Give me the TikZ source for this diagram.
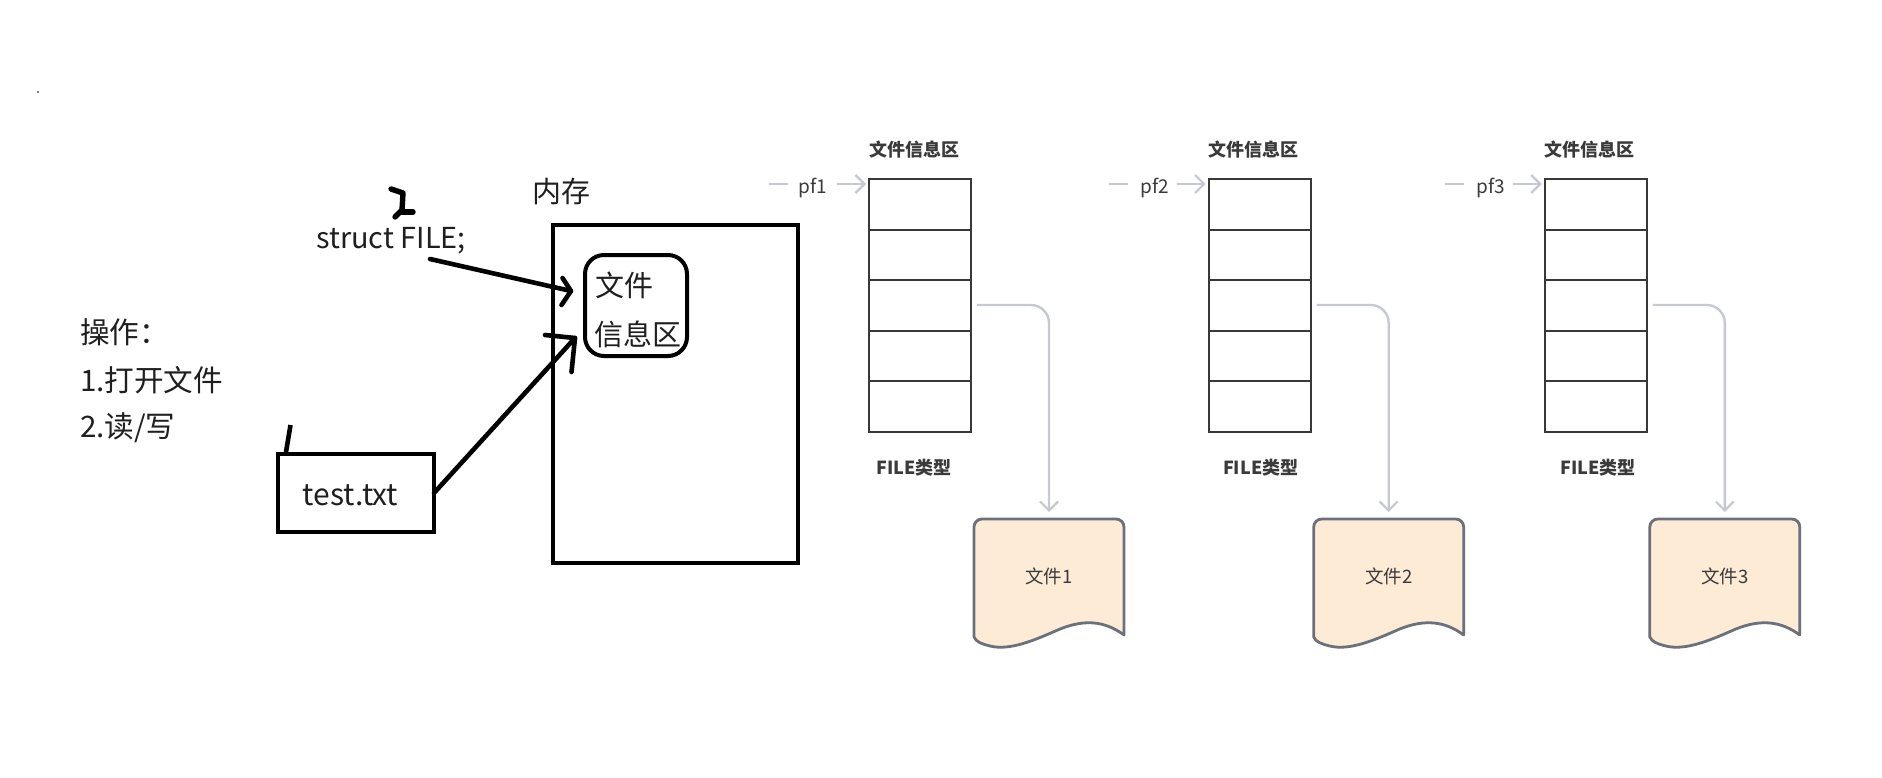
\documentclass[tikz,border=0pt]{standalone}
\usepackage{fontspec}
\setmainfont{Noto Sans CJK SC}
\usetikzlibrary{arrows.meta}
\definecolor{inkblack}{HTML}{000000}
\definecolor{softgray}{HTML}{C6C9CF}
\definecolor{docedge}{HTML}{6A707C}
\definecolor{docfill}{HTML}{FDEBD6}
\definecolor{cellline}{HTML}{383838}
\definecolor{smalltext}{HTML}{3A3A3A}
\tikzset{
  bigtext/.style={inner sep=0pt,outer sep=0pt,text=black!88,font=\fontsize{29}{35}\selectfont},
  listtext/.style={bigtext,font=\fontsize{29.6}{35}\selectfont},
  inkbox/.style={draw=inkblack,line width=4.4pt,inner sep=0pt,outer sep=0pt},
  inkline/.style={draw=inkblack,line width=4.6pt,line cap=round,line join=round},
  cellbox/.style={draw=cellline,line width=2pt,inner sep=0pt,outer sep=0pt,minimum width=102pt},
  softline/.style={draw=softgray,line width=2.4pt},
  softarrow/.style={softline,-{Straight Barb[length=9pt,width=18pt,line width=2.2pt]}},
  boldlabel/.style={inner sep=0pt,outer sep=0pt,text=smalltext,font=\fontsize{18}{22}\selectfont\bfseries},
  pflabel/.style={inner sep=0pt,outer sep=0pt,text=smalltext,font=\fontsize{19}{23}\selectfont},
  docshape/.style={draw=docedge,fill=docfill,line width=2.8pt,line join=round},
  doclabel/.style={inner sep=0pt,outer sep=0pt,text=smalltext,minimum width=150pt,minimum height=114pt,font=\fontsize{18.5}{22}\selectfont},
}
\begin{document}
\begin{tikzpicture}[x=1pt,y=-1pt]
\useasboundingbox (0,0) rectangle (1882,778);
\fill[white] (0,0) rectangle (1882,778);
\fill[inkblack] (38,92) circle (0.9);
% left list
\node[listtext,anchor=west] (opstitle) at (80,332) {操作：};
\node[listtext,anchor=west] (opsopen) at (80,380) {1.打开文件};
\node[listtext,anchor=west] (opsrw) at (80,428) {2.读/写};
% memory
\node[bigtext] (memlabel) at (561,192) {内存};
\node[inkbox,minimum width=245pt,minimum height=338pt] (membox) at (675.5,394) {};
\node[inkbox,rounded corners=19pt,line width=4pt,minimum width=102pt,minimum height=101pt] (infobox) at (636,305.5) {};
\node[bigtext] (infoa) at (624,285) {文件};
\node[bigtext] (infob) at (637.5,334.5) {信息区};
% file box
\node[inkbox,minimum width=156pt,minimum height=78pt] (testbox) at (356,493) {};
\node[bigtext,font=\fontsize{30}{36}\selectfont] (testlabel) at (350.5,495) {test.txt};
\node[bigtext,font=\fontsize{28.9}{36}\selectfont] (structlabel) at (391,241) {struct FILE;};
% hand strokes
\coordinate (aonestart) at (430,259);
\coordinate (aoneend) at (571,291);
\coordinate (atwostart) at (437,488);
\coordinate (atwoend) at (575,338);
\draw[inkline] (aonestart) -- (aoneend);
\draw[inkline] (562.5,278) -- (aoneend) -- (561.5,305);
\draw[inkline] (testbox.east) -- (atwoend);
\draw[inkline] (545,335) -- (atwoend) -- (571.5,372);
\draw[inkline,line width=5.4pt] (391,189) -- (403,193) -- (402,210) -- (395,217);
\draw[inkline,line width=5.4pt] (402,212) -- (413,212);
\draw[inkline,line cap=butt] (290.5,425) -- (286,452);
% three groups
\foreach \dx/\n/\tx/\px in {0/1/0/0,339.7/2/7/2,675.8/3/8/2}{
\begin{scope}[xshift=\dx pt]
  \node[boldlabel] (title\n) at (914,150) {文件信息区};
  \node[cellbox,minimum height=51pt] (cella\n) at (920,204.5) {};
  \node[cellbox,minimum height=50pt] (cellb\n) at (920,255) {};
  \node[cellbox,minimum height=51pt] (cellc\n) at (920,305.5) {};
  \node[cellbox,minimum height=50pt] (celld\n) at (920,356) {};
  \node[cellbox,minimum height=51pt] (celle\n) at (920,406.5) {};
  \node[boldlabel] (type\n) at (914+\tx,467.5) {FILE类型};
  \node[pflabel] (pf\n) at (813+\px,188) {pf\n};
  \coordinate (pfstart\n) at (769,184);
  \coordinate (pfstop\n) at (788,184);
  \coordinate (pfarrow\n) at (837,184);
  \coordinate (pftip\n) at (866,184);
  \draw[softline] (pfstart\n) -- (pfstop\n);
  \draw[softarrow] (pfarrow\n) -- (pftip\n);
  \draw[docshape] (974,527) arc[start angle=180,end angle=270,radius=8] -- (1116,519)
     arc[start angle=270,end angle=360,radius=8] -- (1124,635)
     .. controls (1105,621) and (1085,619) .. (1060,629)
     .. controls (1035,640) and (1010,651) .. (990,646)
     .. controls (982,644) and (976,642) .. (974,637) -- cycle;
  \node[doclabel] (file\n) at (1049,576) {文件\n};
  \coordinate (linkstart\n) at (977,305);
  \draw[softarrow,rounded corners=18pt,shorten >=7pt] (linkstart\n) -| (file\n.north);
\end{scope}
}
\end{tikzpicture}
\end{document}
